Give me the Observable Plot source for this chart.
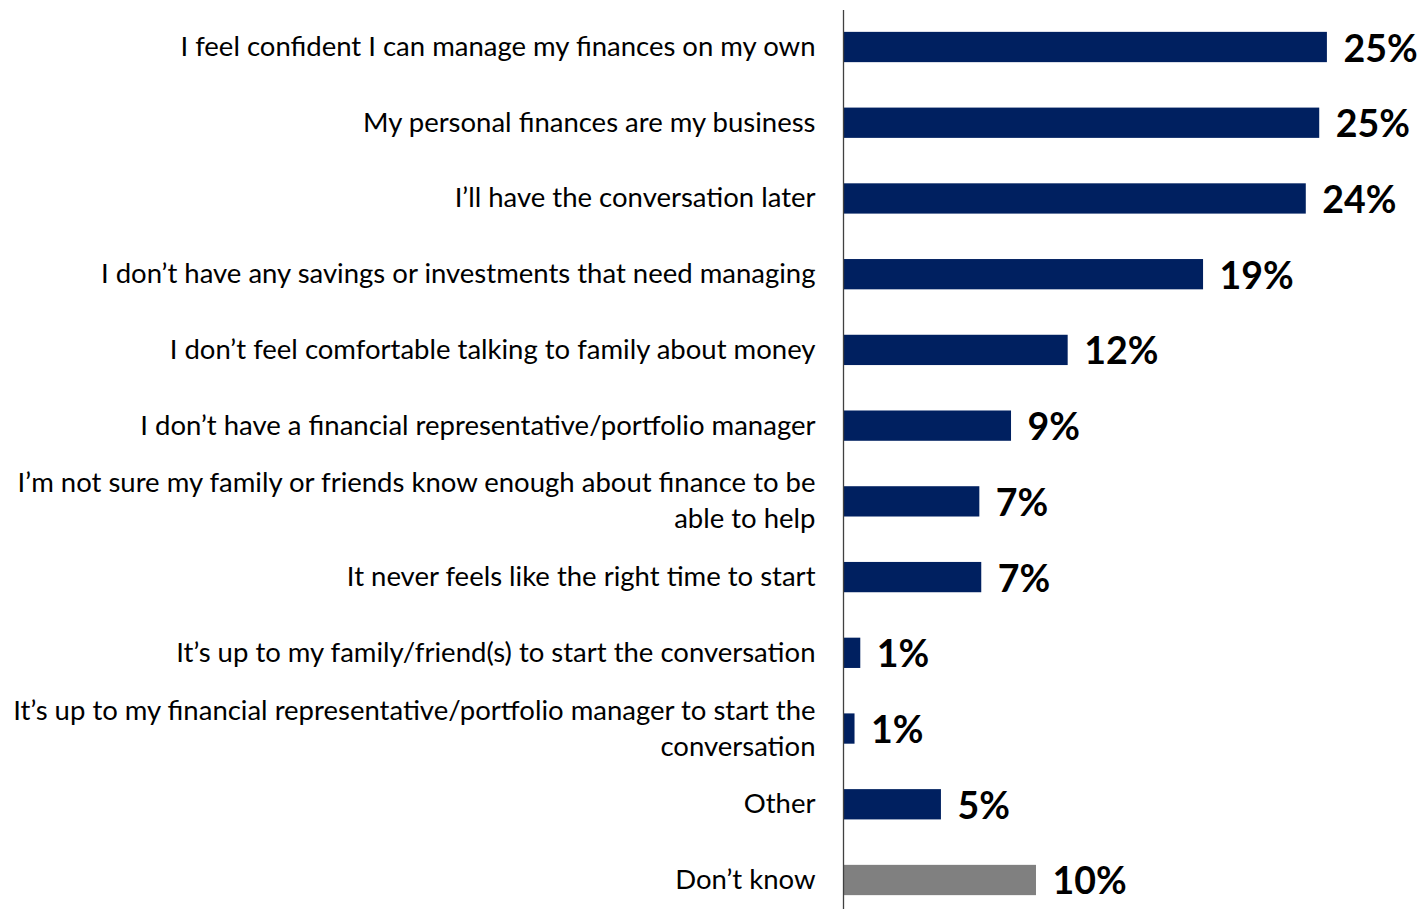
<!DOCTYPE html>
<html>
<head>
<meta charset="utf-8">
<script src="https://cdn.jsdelivr.net/npm/d3@7"></script>
<script src="https://cdn.jsdelivr.net/npm/@observablehq/plot@0.6"></script>
<style>
  html, body { margin: 0; padding: 0; background: #fff; }
  #chart svg { display: block; }
</style>
</head>
<body>
<div id="chart"></div>
<script>
const categories = [
  "I feel confident I can manage my finances on my own",
  "My personal finances are my business",
  "I\u2019ll have the conversation later",
  "I don\u2019t have any savings or investments that need managing",
  "I don\u2019t feel comfortable talking to family about money",
  "I don\u2019t have a financial representative/portfolio manager",
  "I\u2019m not sure my family or friends know enough about finance to be\nable to help",
  "It never feels like the right time to start",
  "It\u2019s up to my family/friend(s) to start the conversation",
  "It\u2019s up to my financial representative/portfolio manager to start the\nconversation",
  "Other",
  "Don\u2019t know"
];
const values = [25.2, 24.8, 24.1, 18.75, 11.7, 8.75, 7.1, 7.2, 0.9, 0.6, 5.1, 10.05];
const valueLabels = ["25%", "25%", "24%", "19%", "12%", "9%", "7%", "7%", "1%", "1%", "5%", "10%"];
const groups = ["main","main","main","main","main","main","main","main","main","main","main","dk"];

const data = categories.map((c, i) => ({category: c, value: values[i], label: valueLabels[i], group: groups[i]}));

const chart = Plot.plot({
  width: 1421,
  height: 909,
  marginLeft: 843,
  marginRight: 0,
  marginTop: 18,
  marginBottom: 0,
  style: {fontFamily: "Lato, sans-serif", background: "#fff"},
  x: {domain: [0, 30.1], axis: null},
  y: {domain: categories, paddingInner: 0.6, paddingOuter: 0.183, round: false, label: null},
  color: {domain: ["main", "dk"], range: ["#002060", "#808080"]},
  marks: [
    Plot.axisY({tickSize: 0, tickPadding: 28, dy: -3, fontSize: 27.5, lineHeight: 1.31, fill: "#000", label: null}),
    Plot.barX(data, {y: "category", x: "value", fill: "group"}),
    Plot.ruleX([0], {stroke: "#404040", strokeWidth: 1.3, insetTop: -8}),
    Plot.text(data, {y: "category", x: "value", text: "label", textAnchor: "start", dx: 16, dy: 2, fontSize: 37.5, fontWeight: "bold", fill: "#000"})
  ]
});
document.getElementById("chart").appendChild(chart);
</script>
</body>
</html>
